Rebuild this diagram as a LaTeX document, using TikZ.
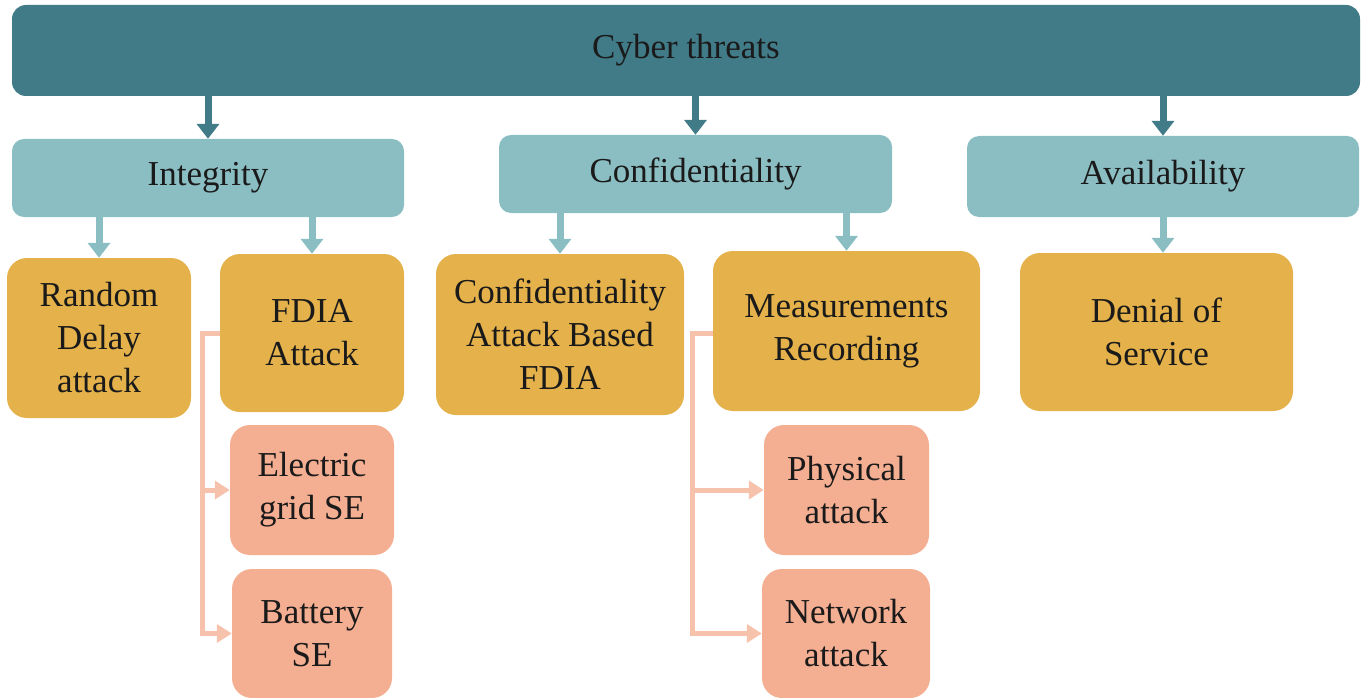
\documentclass[tikz,border=0pt]{standalone}
\usepackage{fontspec}
\setmainfont{Liberation Serif}
\usetikzlibrary{arrows.meta,calc}
\definecolor{tealdark}{HTML}{417B88}
\definecolor{teallight}{HTML}{8BBEC3}
\definecolor{gold}{HTML}{E4B14B}
\definecolor{salmon}{HTML}{F4AE92}
\definecolor{salmonline}{HTML}{F6C2AC}
\definecolor{ink}{HTML}{1A1A1A}
\tikzset{
  box/.style={rounded corners=14pt, align=center, text=ink, inner sep=0pt,
    font=\fontsize{35}{43}\selectfont},
  rootbox/.style={box, fill=tealdark},
  catbox/.style={box, fill=teallight, rounded corners=12pt},
  attackbox/.style={box, fill=gold, rounded corners=20pt},
  subbox/.style={box, fill=salmon, rounded corners=20pt},
  darkarrow/.style={draw=tealdark, line width=7pt,
    -{Triangle[width=22pt,length=15pt]}, color=tealdark},
  lightarrow/.style={draw=teallight, line width=7pt,
    -{Triangle[width=22pt,length=15pt]}, color=teallight},
  subarrow/.style={draw=salmonline, line width=5pt,
    -{Triangle[width=18pt,length=15pt]}, color=salmonline},
}
\begin{document}
\begin{tikzpicture}[x=1pt,y=-1pt]
\useasboundingbox (0,0) rectangle (1368,698);

% root
\node[rootbox, minimum width=1348pt, minimum height=91pt] (top) at (686,50.5) {Cyber threats};

% categories
\node[catbox, minimum width=392pt, minimum height=78pt] (integ) at (208,178) {Integrity};
\node[catbox, minimum width=393pt, minimum height=78pt] (conf) at (695.5,174) {Confidentiality};
\node[catbox, minimum width=392pt, minimum height=81pt] (avail) at (1163,176.5) {Availability};

% attacks
\node[attackbox, minimum width=184pt, minimum height=160pt] (rda) at (99,338) {Random\\Delay\\attack};
\node[attackbox, minimum width=184pt, minimum height=158pt] (fdia) at (312,333) {FDIA\\Attack};
\node[attackbox, minimum width=248pt, minimum height=161pt] (cab) at (560,334.5) {Confidentiality\\Attack Based\\FDIA};
\node[attackbox, minimum width=267pt, minimum height=160pt] (meas) at (846.5,331) {Measurements\\Recording};
\node[attackbox, minimum width=273pt, minimum height=158pt] (dos) at (1156.5,332) {Denial of\\Service};

% sub-attacks
\node[subbox, minimum width=164pt, minimum height=130pt] (egse) at (312,490) {Electric\\grid SE};
\node[subbox, minimum width=160pt, minimum height=129pt] (bse) at (312,633.5) {Battery\\SE};
\node[subbox, minimum width=165pt, minimum height=130pt] (phys) at (846.5,490) {Physical\\attack};
\node[subbox, minimum width=168pt, minimum height=129pt] (net) at (846,633.5) {Network\\attack};

% root to categories
\draw[darkarrow] (top.south -| integ.north) -- (integ.north);
\draw[darkarrow] (top.south -| conf.north) -- (conf.north);
\draw[darkarrow] (top.south -| avail.north) -- (avail.north);

% categories to attacks
\draw[lightarrow] (integ.south -| rda.north) -- (rda.north);
\draw[lightarrow] (integ.south -| fdia.north) -- (fdia.north);
\draw[lightarrow] (conf.south -| cab.north) -- (cab.north);
\draw[lightarrow] (conf.south -| meas.north) -- (meas.north);
\draw[lightarrow] (avail.south) -- (avail.south |- dos.north);

% attack branches
\coordinate (fdiaL) at ($(fdia.west)+(-17,0)$);
\draw[subarrow] (fdia.west) -- (fdiaL) |- (egse.west);
\draw[subarrow] (fdiaL) |- (bse.west);
\coordinate (measL) at ($(meas.west)+(-20,2)$);
\draw[subarrow] ($(meas.west)+(0,2)$) -- (measL) |- (phys.west);
\draw[subarrow] (measL) |- (net.west);
\end{tikzpicture}
\end{document}
